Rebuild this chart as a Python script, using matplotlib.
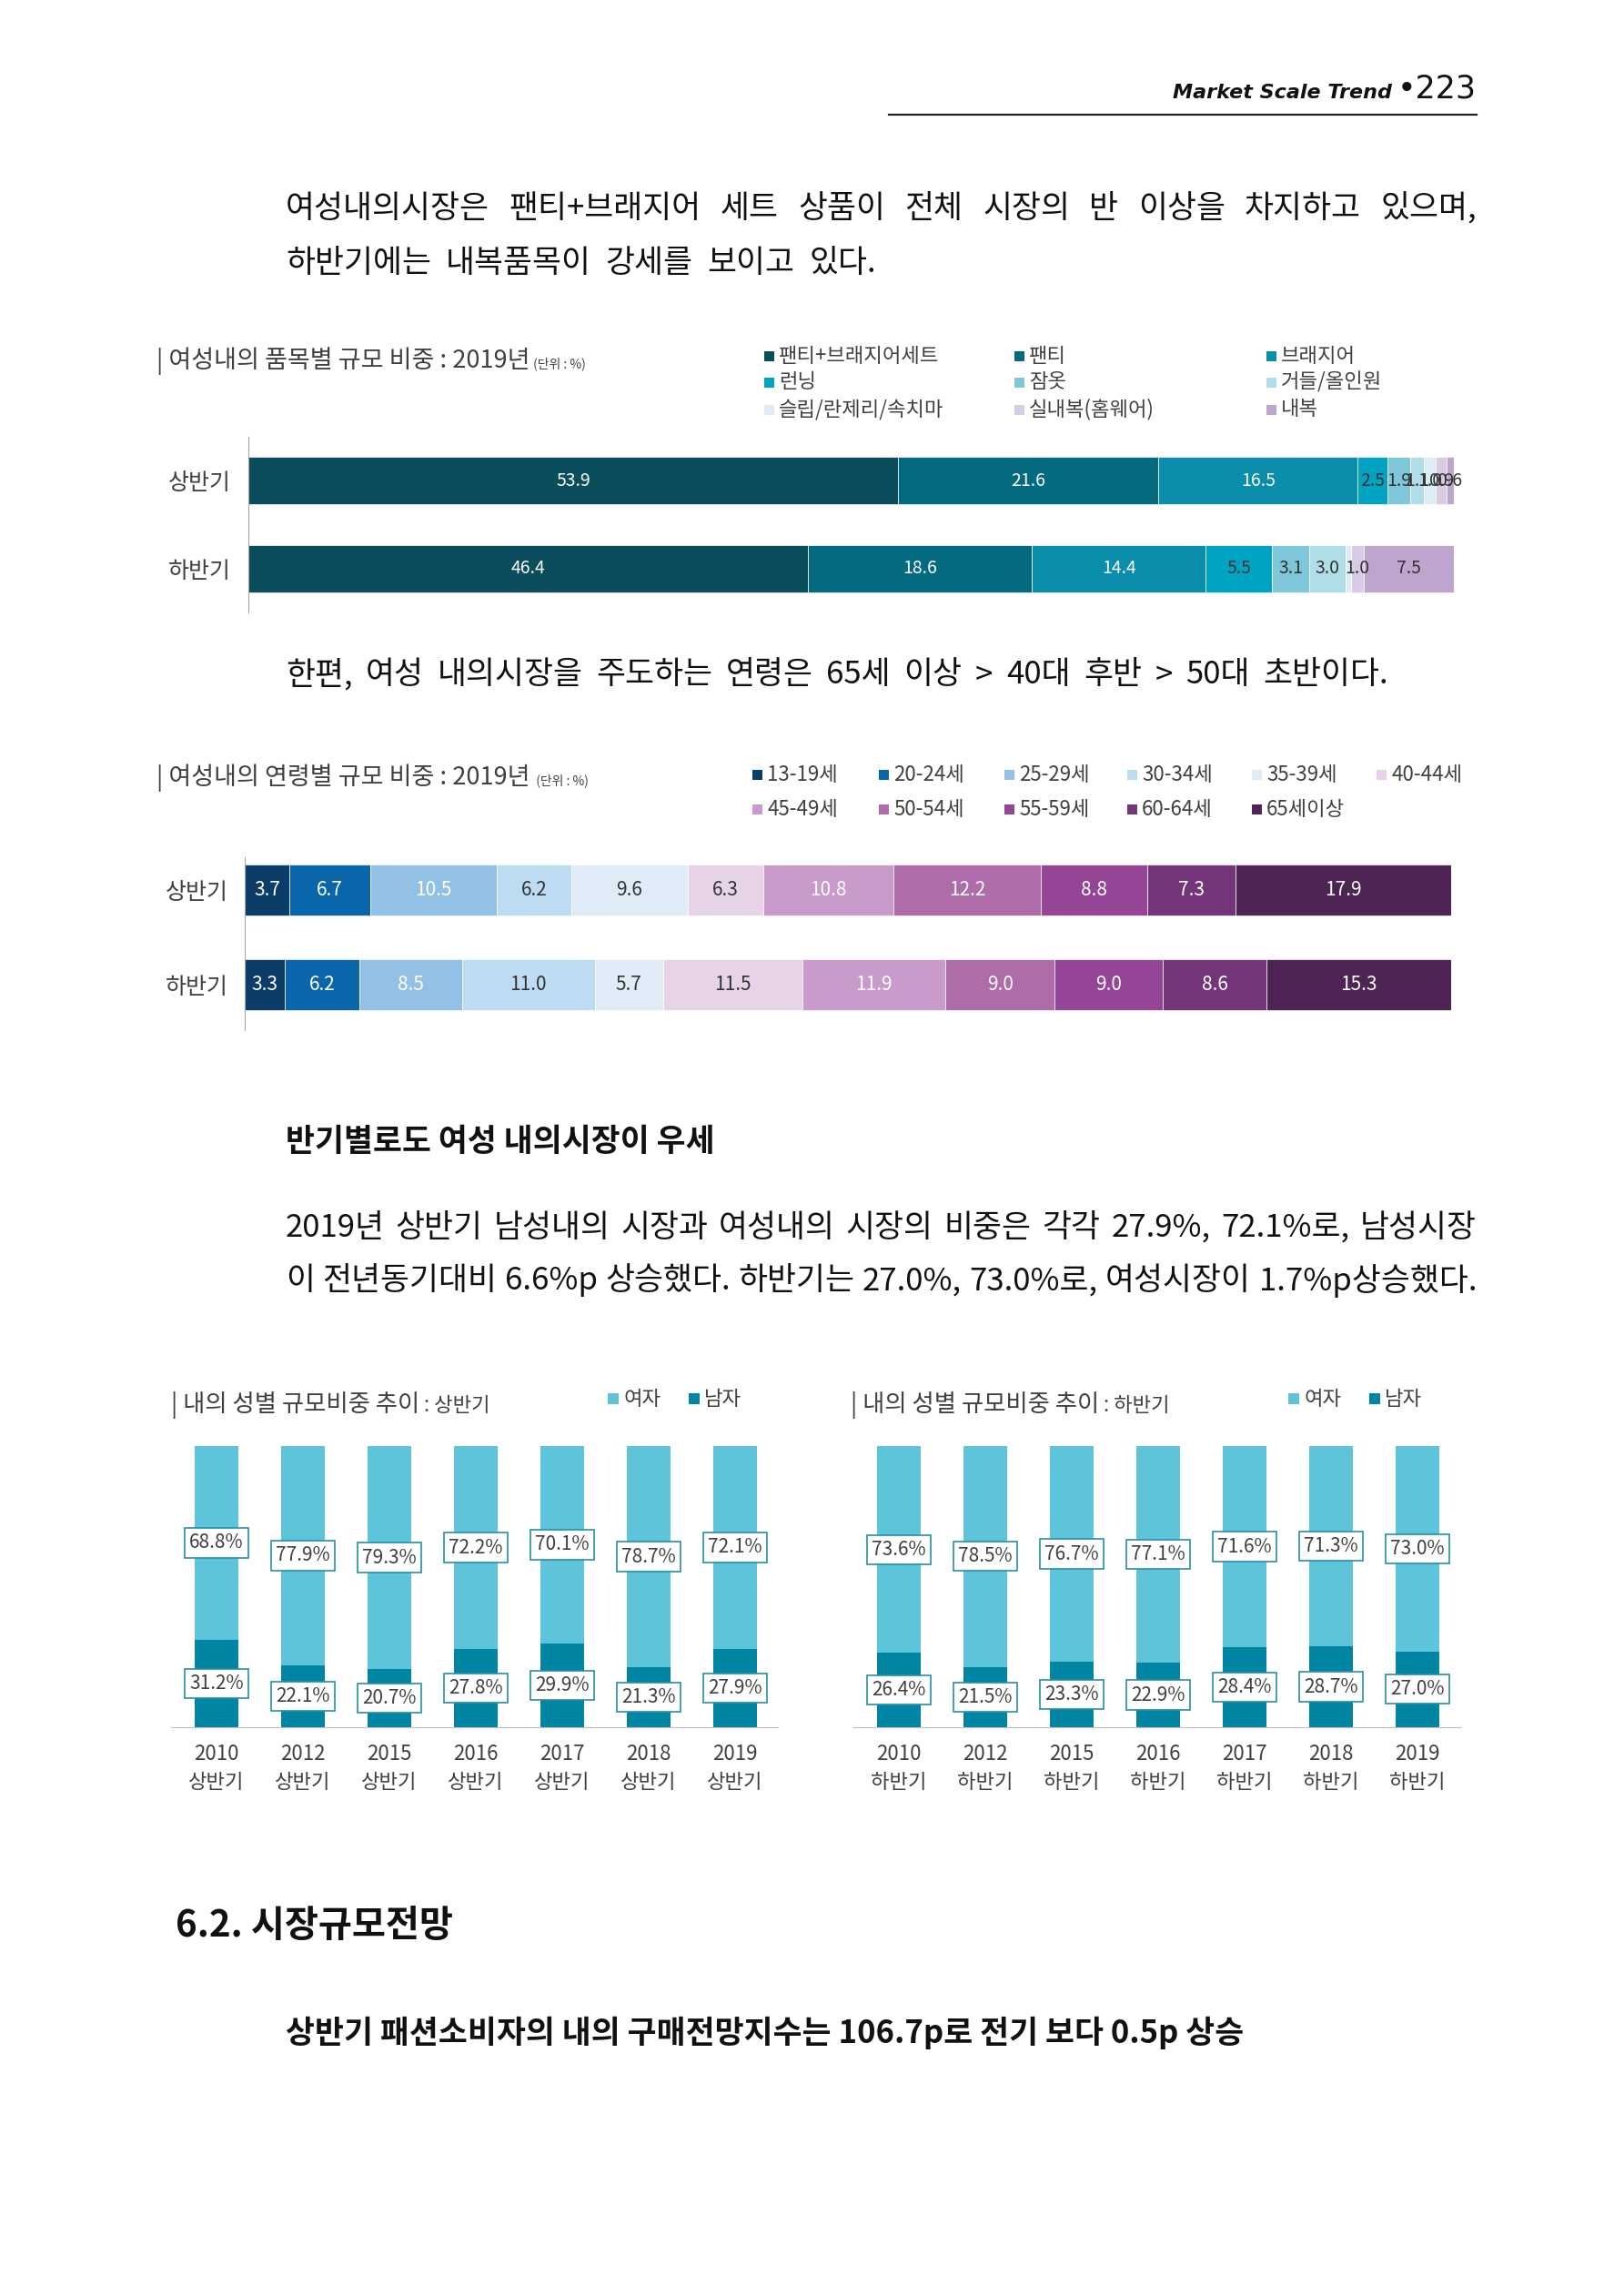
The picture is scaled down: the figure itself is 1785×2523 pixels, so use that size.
import matplotlib
matplotlib.use('Agg')
import matplotlib.pyplot as plt
from matplotlib.patches import Rectangle
from matplotlib.lines import Line2D

plt.rcParams['font.family'] = ['Noto Sans CJK KR', 'DejaVu Sans']

W, H = 1785, 2523

# 품목별 규모 비중 (2019)
item_names = ['팬티+브래지어세트', '팬티', '브래지어', '런닝', '잠옷', '거들/올인원',
              '슬립/란제리/속치마', '실내복(홈웨어)', '내복']
item_first = [53.9, 21.6, 16.5, 2.5, 1.9, 1.1, 1.0, 0.9, 0.6]
item_second = [46.4, 18.6, 14.4, 5.5, 3.1, 3.0, 0.5, 1.0, 7.5]
item_colors = ['#0a4e5e', '#046a80', '#0a8eab', '#00a3c2', '#7ec6d9', '#b1dde9',
               '#dcedf6', '#d8cbe3', '#bea5cd']
item_text = ['white', 'white', 'white', '#333333', '#333333', '#333333',
             '#333333', '#333333', '#333333']

# 연령별 규모 비중 (2019)
age_names = ['13-19세', '20-24세', '25-29세', '30-34세', '35-39세', '40-44세',
             '45-49세', '50-54세', '55-59세', '60-64세', '65세이상']
age_first = [3.7, 6.7, 10.5, 6.2, 9.6, 6.3, 10.8, 12.2, 8.8, 7.3, 17.9]
age_second = [3.3, 6.2, 8.5, 11.0, 5.7, 11.5, 11.9, 9.0, 9.0, 8.6, 15.3]
age_colors = ['#0b3d68', '#0966ab', '#93c1e6', '#bddbf1', '#dfecf8', '#e6d3e8',
              '#c89bcb', '#ae6cab', '#944596', '#74357b', '#4e2455']
age_text = ['white', 'white', 'white', '#333333', '#333333', '#333333',
            'white', 'white', 'white', 'white', 'white']

# 성별 규모비중 추이
years = ['2010', '2012', '2015', '2016', '2017', '2018', '2019']
female_first = [68.8, 77.9, 79.3, 72.2, 70.1, 78.7, 72.1]
male_first = [31.2, 22.1, 20.7, 27.8, 29.9, 21.3, 27.9]
female_second = [73.6, 78.5, 76.7, 77.1, 71.6, 71.3, 73.0]
male_second = [26.4, 21.5, 23.3, 22.9, 28.4, 28.7, 27.0]
female_color = '#5ec4da'
male_color = '#0085a3'

TXT = '#111111'
CHART_TXT = '#404040'

fig = plt.figure(figsize=(W / 100, H / 100), dpi=100)
renderer = fig.canvas.get_renderer()


def fx(x):
    return x / W


def fy(y):
    return 1 - y / H


def add_ax(x0, y0, x1, y1):
    return fig.add_axes([x0 / W, 1 - y1 / H, (x1 - x0) / W, (y1 - y0) / H])


def justify(y, line, x0, x1, size, **kw):
    # spread words so the line fills x0..x1
    words = line.split(' ')
    items = [fig.text(fx(x0), fy(y), w, fontsize=size, va='center', ha='left',
                      color=TXT, **kw) for w in words]
    widths = [t.get_window_extent(renderer).width for t in items]
    gap = (x1 - x0 - sum(widths)) / max(len(words) - 1, 1)
    x = x0
    for t, w in zip(items, widths):
        t.set_x(fx(x))
        x += w + gap


def run(x, y, parts, color=CHART_TXT):
    for s, size in parts:
        t = fig.text(fx(x), fy(y), s, fontsize=size, va='baseline', ha='left', color=color)
        x += t.get_window_extent(renderer).width


def legend_item(x, y, color, label, size=15, box=11):
    fig.add_artist(Rectangle((fx(x), fy(y + box / 2)), box / W, box / H,
                             transform=fig.transFigure, color=color, lw=0))
    fig.text(fx(x + box + 5), fy(y), label, fontsize=size, va='center', ha='left',
             color=CHART_TXT)


# header
t = fig.text(fx(1623), fy(108), '•223', fontsize=25, ha='right', va='baseline', color=TXT,
             family='DejaVu Sans')
w = t.get_window_extent(renderer).width
fig.text(fx(1623 - w - 6), fy(108), 'Market Scale Trend', fontsize=16, ha='right',
         va='baseline', color=TXT, family='DejaVu Sans', style='italic', weight='bold')
fig.add_artist(Line2D([fx(977), fx(1623)], [fy(126), fy(126)], color='#222222', lw=1.6,
                      transform=fig.transFigure))

# paragraph 1
justify(230, '여성내의시장은 팬티+브래지어 세트 상품이 전체 시장의 반 이상을 차지하고 있으며,',
        314, 1623, 25)
justify(290, '하반기에는 내복품목이 강세를 보이고 있다.', 314, 963, 25)

# chart 1: 품목별
run(172, 404, [('| 여성내의 품목별 규모 비중 : 2019년', 19.5), (' (단위 : %)', 10)])
leg_x = [840, 1115, 1392]
leg_y = [391, 420, 450]
for i, (name, c) in enumerate(zip(item_names, item_colors)):
    legend_item(leg_x[i % 3], leg_y[i // 3], c, name, size=16)

ax1 = add_ax(273, 480, 1598, 673)
left = [0.0, 0.0]
for i in range(len(item_names)):
    vals = [item_first[i], item_second[i]]
    bars = ax1.barh([0, 1], vals, left=left, height=0.54, color=item_colors[i],
                    edgecolor='white', linewidth=0.5)
    labels = [f'{v:.1f}' if v >= 0.6 else '' for v in vals]
    ax1.bar_label(bars, labels=labels, label_type='center', fontsize=14,
                  color=item_text[i])
    left = [left[0] + vals[0], left[1] + vals[1]]
ax1.set_xlim(0, 100)
ax1.set_ylim(1.495, -0.495)
ax1.set_yticks([0, 1])
ax1.set_yticklabels(['상반기', '하반기'], fontsize=18, color=CHART_TXT)
ax1.tick_params(axis='y', length=0, pad=14)
ax1.set_xticks([])
for s in ['top', 'right', 'bottom']:
    ax1.spines[s].set_visible(False)
ax1.spines['left'].set_color('#a6a6a6')

# paragraph 2
justify(742, '한편, 여성 내의시장을 주도하는 연령은 65세 이상 > 40대 후반 > 50대 초반이다.',
        314, 1526, 25)

# chart 2: 연령별
run(172, 862, [('| 여성내의 연령별 규모 비중 : 2019년', 19.5), ('  (단위 : %)', 10)])
age_leg_x = [827, 966, 1104, 1239, 1376, 1513]
age_leg_y = [851, 890]
for i, (name, c) in enumerate(zip(age_names, age_colors)):
    legend_item(age_leg_x[i % 6], age_leg_y[i // 6], c, name, size=16)

ax2 = add_ax(269, 942, 1595, 1132)
left = [0.0, 0.0]
for i in range(len(age_names)):
    vals = [age_first[i], age_second[i]]
    bars = ax2.barh([0, 1], vals, left=left, height=0.54, color=age_colors[i],
                    edgecolor='white', linewidth=0.5)
    ax2.bar_label(bars, labels=[f'{v:.1f}' for v in vals], label_type='center',
                  fontsize=15, color=age_text[i])
    left = [left[0] + vals[0], left[1] + vals[1]]
ax2.set_xlim(0, 100)
ax2.set_ylim(1.48, -0.346)
ax2.set_yticks([0, 1])
ax2.set_yticklabels(['상반기', '하반기'], fontsize=18, color=CHART_TXT)
ax2.tick_params(axis='y', length=0, pad=13)
ax2.set_xticks([])
for s in ['top', 'right', 'bottom']:
    ax2.spines[s].set_visible(False)
ax2.spines['left'].set_color('#a6a6a6')

# section text
fig.text(fx(314), fy(1255), '반기별로도 여성 내의시장이 우세', fontsize=25, weight='bold',
         va='center', color=TXT)
justify(1349, '2019년 상반기 남성내의 시장과 여성내의 시장의 비중은 각각 27.9%, 72.1%로, 남성시장',
        314, 1623, 25)
justify(1408, '이 전년동기대비 6.6%p 상승했다. 하반기는 27.0%, 73.0%로, 여성시장이 1.7%p상승했다.',
        314, 1623, 25)


# gender charts
def gender_chart(x0, x1, first_center, half, female, male, title_x, leg_x):
    run(title_x, 1551, [('| 내의 성별 규모비중 추이', 19), (' : ' + half, 16)])
    legend_item(leg_x, 1537, female_color, '여자', size=16, box=12)
    legend_item(leg_x + 89, 1537, male_color, '남자', size=16, box=12)
    ax = add_ax(x0, 1589, x1, 1898)
    step = 95.0
    pos = list(range(len(years)))
    mb = ax.bar(pos, male, width=0.5, color=male_color)
    fb = ax.bar(pos, female, bottom=male, width=0.5, color=female_color)
    box = dict(boxstyle='square,pad=0.25', fc='white', ec='#2b8fa6', lw=1.2)
    ax.bar_label(fb, labels=[f'{v:.1f}%' for v in female], label_type='center',
                 fontsize=15, color=CHART_TXT, bbox=box)
    ax.bar_label(mb, labels=[f'{v:.1f}%' for v in male], label_type='center',
                 fontsize=15, color=CHART_TXT, bbox=box)
    ax.set_xlim((x0 - first_center) / step, (x1 - first_center) / step)
    ax.set_ylim(0, 100)
    ax.set_xticks(pos)
    ax.set_xticklabels([f'{y}\n{half}' for y in years], fontsize=16, color=CHART_TXT,
                       linespacing=1.45)
    ax.tick_params(axis='x', length=0, pad=13)
    ax.set_yticks([])
    for s in ['top', 'right', 'left']:
        ax.spines[s].set_visible(False)
    ax.spines['bottom'].set_color('#bfbfbf')


gender_chart(188, 855, 238, '상반기', female_first, male_first, 188, 668)
gender_chart(938, 1605, 988, '하반기', female_second, male_second, 935, 1416)

# bottom headings
fig.text(fx(193), fy(2117), '6.2. 시장규모전망', fontsize=29, weight='bold', va='center',
         color=TXT)
fig.text(fx(314), fy(2234), '상반기 패션소비자의 내의 구매전망지수는 106.7p로 전기 보다 0.5p 상승',
         fontsize=25, weight='bold', va='center', color=TXT)

fig.savefig('out.png', dpi=100, facecolor='white')
